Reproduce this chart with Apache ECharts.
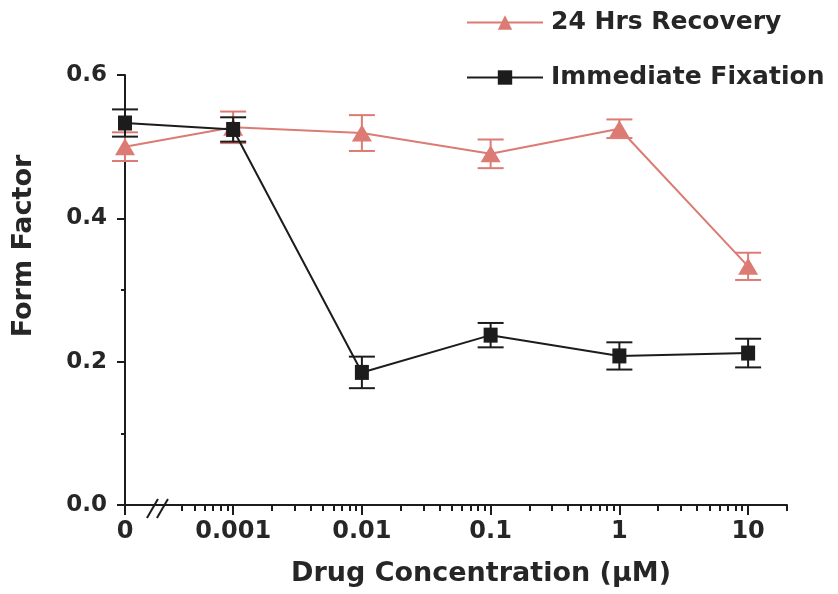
<!DOCTYPE html>
<html>
<head>
<meta charset="utf-8">
<script src="https://cdn.jsdelivr.net/npm/echarts@6/dist/echarts.min.js"></script>
<style>
  html, body { margin: 0; padding: 0; background: #ffffff; }
  #chart { width: 838px; height: 594px; }
</style>
</head>
<body>
<div id="chart"></div>
<script>
// Drug concentrations (µM) and the tick labels shown under them
const concentrations = [0, 0.001, 0.01, 0.1, 1, 10];
const tickLabels = ['0', '0.001', '0.01', '0.1', '1', '10'];

// Form factor, mean and error, for each condition
const recovery = [0.500, 0.527, 0.519, 0.490, 0.525, 0.333];
const recoveryErr = [0.020, 0.022, 0.025, 0.020, 0.013, 0.019];
const fixation = [0.533, 0.524, 0.185, 0.237, 0.208, 0.212];
const fixationErr = [0.019, 0.017, 0.022, 0.017, 0.019, 0.020];

const yTicks = [0, 0.2, 0.4, 0.6];

// The x axis runs in log10 units; the zero dose sits at the left end,
// separated from the logarithmic part by an axis break.
const ZERO_POS = -3.84;
const X_MAX = Math.log10(20) + 0.001;
const BREAK_POS = -3.584;

const FONT = "'DejaVu Sans', sans-serif";
const TEXT = '#262626';
const INK = '#1c1c1c';
const RED = '#dc7b73';

function toAxis(c) { return c === 0 ? ZERO_POS : Math.log10(c); }

const majorTicks = concentrations.map(toAxis);
const minorTicks = [];
for (let d = -4; d <= 1; d++) {
  for (let k = 2; k <= 9; k++) {
    const v = Math.log10(k * Math.pow(10, d));
    if (v > BREAK_POS + 0.12 && v <= X_MAX) minorTicks.push(v);
  }
}

function labelFor(v) {
  for (let i = 0; i < majorTicks.length; i++) {
    if (Math.abs(majorTicks[i] - v) < 1e-6) return tickLabels[i];
  }
  return '';
}

function errorBars(name, values, errs, color, z) {
  return {
    type: 'custom',
    name: name,
    z: z,
    clip: false,
    silent: true,
    data: concentrations.map((c, i) => [toAxis(c), values[i] - errs[i], values[i] + errs[i]]),
    renderItem(params, api) {
      const x = api.value(0);
      const lo = api.coord([x, api.value(1)]);
      const hi = api.coord([x, api.value(2)]);
      const w = 13;
      const style = { stroke: color, lineWidth: 2, fill: null };
      return {
        type: 'group',
        children: [
          { type: 'line', shape: { x1: lo[0], y1: lo[1], x2: hi[0], y2: hi[1] }, style },
          { type: 'line', shape: { x1: lo[0] - w, y1: lo[1], x2: lo[0] + w, y2: lo[1] }, style },
          { type: 'line', shape: { x1: hi[0] - w, y1: hi[1], x2: hi[0] + w, y2: hi[1] }, style }
        ]
      };
    }
  };
}

const chart = echarts.init(document.getElementById('chart'), null, { renderer: 'canvas' });

function axisStyle() { return { color: INK, width: 2 }; }

chart.setOption({
  animation: false,
  backgroundColor: '#ffffff',
  grid: { left: 125, right: 51, top: 75, bottom: 89, containLabel: false, outerBoundsMode: 'none' },
  legend: {
    orient: 'vertical',
    left: 461,
    top: 5,
    itemWidth: 76,
    itemHeight: 18,
    itemGap: 30,
    data: ['24 Hrs Recovery', 'Immediate Fixation'],
    textStyle: { fontFamily: FONT, fontWeight: 'bold', fontSize: 25, color: TEXT, padding: [0, 0, 0, 3] }
  },
  xAxis: [
    {
      type: 'value',
      min: ZERO_POS,
      max: X_MAX,
      axisLine: { show: true, onZero: false, lineStyle: axisStyle() },
      axisTick: { show: true, length: 10, lineStyle: axisStyle(), customValues: majorTicks },
      axisLabel: {
        customValues: majorTicks,
        formatter: labelFor,
        margin: 15,
        fontFamily: FONT, fontWeight: 'bold', fontSize: 24, color: TEXT
      },
      splitLine: { show: false }
    },
    {
      type: 'value',
      min: ZERO_POS,
      max: X_MAX,
      position: 'bottom',
      axisLine: { show: false, onZero: false },
      axisTick: { show: true, length: 6, lineStyle: axisStyle(), customValues: minorTicks },
      axisLabel: { show: false },
      splitLine: { show: false }
    }
  ],
  yAxis: {
    type: 'value',
    min: 0,
    max: 0.6,
    interval: 0.2,
    axisLine: { show: true, onZero: false, lineStyle: axisStyle() },
    axisTick: { show: true, length: 8, lineStyle: axisStyle() },
    minorTick: { show: true, splitNumber: 2, length: 4, lineStyle: axisStyle() },
    splitLine: { show: false },
    axisLabel: {
      formatter: v => yTicks.includes(+v.toFixed(1)) ? v.toFixed(1) : '',
      margin: 18,
      fontFamily: FONT, fontWeight: 'bold', fontSize: 23, color: TEXT
    }
  },
  series: [
    errorBars('recovery-error', recovery, recoveryErr, RED, 2),
    {
      type: 'line',
      name: '24 Hrs Recovery',
      z: 3,
      clip: false,
      data: concentrations.map((c, i) => [toAxis(c), recovery[i]]),
      symbol: 'triangle',
      symbolSize: [20, 17],
      lineStyle: { color: RED, width: 2 },
      itemStyle: { color: RED },
      color: RED
    },
    errorBars('fixation-error', fixation, fixationErr, INK, 4),
    {
      type: 'line',
      name: 'Immediate Fixation',
      z: 5,
      clip: false,
      data: concentrations.map((c, i) => [toAxis(c), fixation[i]]),
      symbol: 'rect',
      symbolSize: [14, 15],
      lineStyle: { color: INK, width: 2 },
      itemStyle: { color: INK },
      color: INK
    }
  ]
});

// Axis titles and the "//" break on the x axis
const bp = chart.convertToPixel({ xAxisIndex: 0, yAxisIndex: 0 }, [BREAK_POS, 0]);
const slash = { stroke: INK, lineWidth: 2 };
chart.setOption({
  graphic: [
    {
      type: 'text', x: 481, y: 574,
      style: { text: 'Drug Concentration (μM)', fontFamily: FONT, fontWeight: 'bold', fontSize: 27, fill: TEXT, align: 'center', verticalAlign: 'middle' }
    },
    {
      type: 'text', x: 24, y: 246, rotation: Math.PI / 2,
      style: { text: 'Form Factor', fontFamily: FONT, fontWeight: 'bold', fontSize: 27, fill: TEXT, align: 'center', verticalAlign: 'middle' }
    },
    { type: 'line', shape: { x1: bp[0] - 11, y1: bp[1] + 13, x2: bp[0], y2: bp[1] - 6 }, style: slash, z: 10 },
    { type: 'line', shape: { x1: bp[0] - 1, y1: bp[1] + 13, x2: bp[0] + 10, y2: bp[1] - 6 }, style: slash, z: 10 }
  ]
});
</script>
</body>
</html>
